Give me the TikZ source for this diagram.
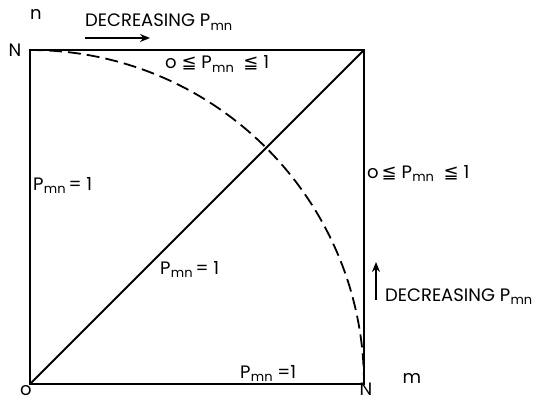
\documentclass[tikz,border=0pt]{standalone}
\usepackage{fontspec}
\setmainfont{Poppins}
\newfontfamily\dvsfont{DejaVu Sans}
\usetikzlibrary{arrows.meta}
\newcommand\Pmn{P\kern0.3pt\raisebox{-0.4ex}{\fontsize{13}{13}\selectfont mn}}
\newcommand\myleqq{{\dvsfont ≦}}
\begin{document}
\begin{tikzpicture}[x=1pt,y=-1pt,
  edge/.style={line width=1.8pt, line join=miter},
  curve/.style={line width=1.8pt, dash pattern=on 13pt off 6pt},
  lbl/.style={font=\fontsize{18}{20}\selectfont, inner sep=0pt, anchor=base west},
  corner/.style={font=\fontsize{18}{20}\selectfont, inner sep=0pt},
  dirarrow/.style={line width=2.6pt, -{Stealth[length=10pt,width=8pt]}}]
\useasboundingbox (0,0) rectangle (537,401);
% corners
\coordinate (O) at (30,384);
\coordinate (A) at (30,50);
\coordinate (B) at (364,50);
\coordinate (C) at (364,384);
% square and diagonal
\draw[edge] (O) -- (A) -- (B) -- (C) -- cycle;
\draw[edge] (O) -- (B);
% dashed quarter circle
\draw[curve] (A) arc[start angle=-90, end angle=0, radius=334];
% axis and corner labels
\node[corner] (n) at (36,14) {n};
\node[corner] (Ntop) at (15,50) {N};
\node[corner] (o) at (26,391) {o};
\node[corner] (Nbot) at (366,389) {N};
\node[corner] (m) at (412,378) {m};
% top direction label
\node[lbl] (dectop) at (85,27) {DECREASING \Pmn};
\coordinate (t1) at (85,38);
\coordinate (t2) at (150,38);
\draw[dirarrow] (t1) -- (t2);
% right direction label
\node[lbl] (decright) at (385,301) {DECREASING \Pmn};
\coordinate (r1) at (376,300);
\coordinate (r2) at (376,262);
\draw[dirarrow] (r1) -- (r2);
% region labels
\node[lbl] (toprange) at (165,69) {o \myleqq\ \Pmn\ \ \myleqq\ 1};
\node[lbl] (rightrange) at (367,178) {o\,\myleqq\ \Pmn\ \ \myleqq\ 1};
\node[lbl] (leftone) at (33,190) {\Pmn\,= 1};
\node[lbl] (diagone) at (160,274) {\Pmn\,= 1};
\node[lbl] (botone) at (240,378) {\Pmn\ =1};
\end{tikzpicture}
\end{document}
